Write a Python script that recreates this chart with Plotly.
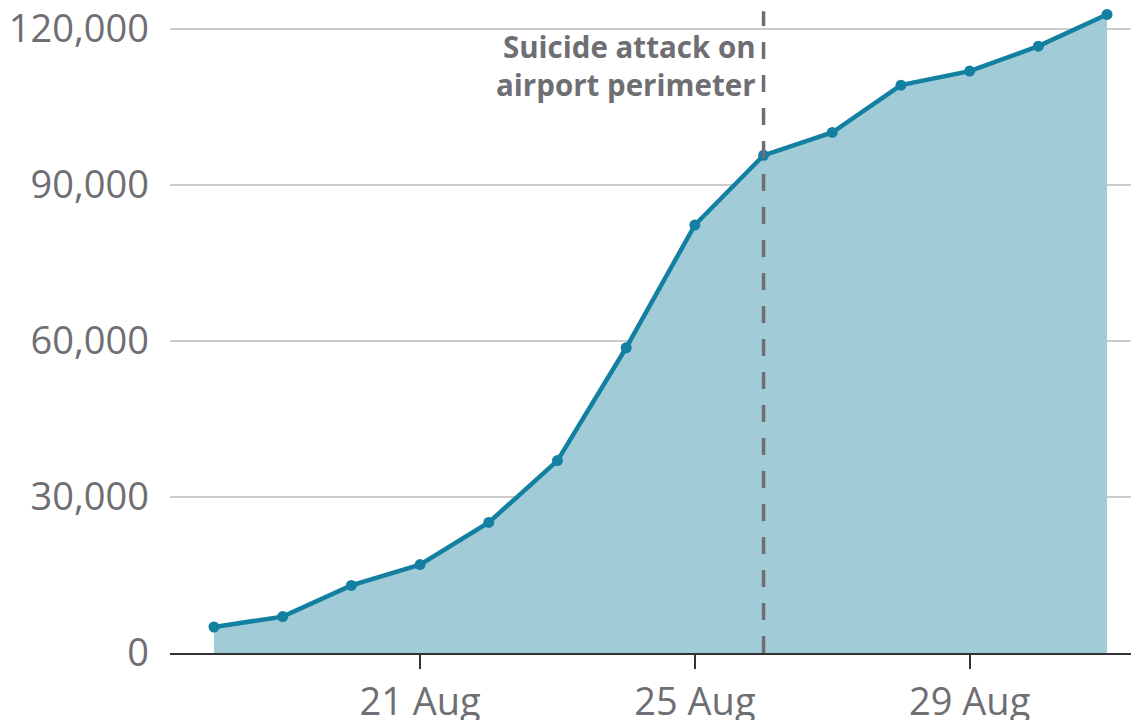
import plotly.graph_objects as go

dates = ["2021-08-18", "2021-08-19", "2021-08-20", "2021-08-21", "2021-08-22",
         "2021-08-23", "2021-08-24", "2021-08-25", "2021-08-26", "2021-08-27",
         "2021-08-28", "2021-08-29", "2021-08-30", "2021-08-31"]
evacuated = [5000, 7000, 13000, 17000, 25100, 37000, 58700, 82300, 95700,
             100100, 109200, 111900, 116700, 122800]
y_ticks = [0, 30000, 60000, 90000, 120000]
y_tick_labels = ["0", "30,000", "60,000", "90,000", "120,000"]
x_ticks = ["2021-08-21", "2021-08-25", "2021-08-29"]
x_tick_labels = ["21 Aug", "25 Aug", "29 Aug"]
event_date = "2021-08-26"
event_label = "Suicide attack on<br>airport perimeter"

LINE = "#1380A1"
FILL = "#A2CBD8"
GREY = "#6E6E73"
FONT = "Open Sans"

fig = go.Figure()
fig.add_trace(go.Scatter(
    x=dates, y=evacuated, mode="lines+markers",
    line=dict(color=LINE, width=4.5),
    marker=dict(color=LINE, size=11),
    fill="tozeroy", fillcolor=FILL,
    hoverinfo="skip", showlegend=False,
))

fig.add_shape(type="line", xref="x", yref="y",
              x0=event_date, x1=event_date, y0=0, y1=123400,
              line=dict(color=GREY, width=3.5, dash="17px,16px"))
fig.add_annotation(x=event_date, y=121000, xref="x", yref="y",
                   text=event_label, showarrow=False,
                   xanchor="right", yanchor="top", xshift=-6, align="right",
                   font=dict(family=FONT, size=29.5, color=GREY, weight="bold"))

fig.update_layout(
    template="none",
    width=1131, height=712,
    margin=dict(l=162, r=0, t=0, b=67),
    plot_bgcolor="white", paper_bgcolor="white",
    font=dict(family=FONT, color=GREY),
    xaxis=dict(
        type="date", automargin=False,
        range=["2021-08-17 08:38", "2021-08-31 11:10"],
        tickvals=x_ticks, ticktext=x_tick_labels,
        showgrid=False, showline=True, linecolor="#333333", linewidth=2,
        ticks="outside", ticklen=14, tickwidth=2, tickcolor="#333333",
        tickfont=dict(family=FONT, size=38, color=GREY),
        zeroline=False, ticklabeloverflow="allow",
    ),
    yaxis=dict(
        automargin=False,
        range=[0, 124038],
        tickvals=y_ticks, ticktext=y_tick_labels,
        showgrid=True, gridcolor="#CCCCCC", gridwidth=1.5,
        showline=False, zeroline=False, ticks="",
        ticklabelstandoff=20, ticklabeloverflow="allow",
        tickfont=dict(family=FONT, size=38, color=GREY),
    ),
)

fig.write_html("out.html")
